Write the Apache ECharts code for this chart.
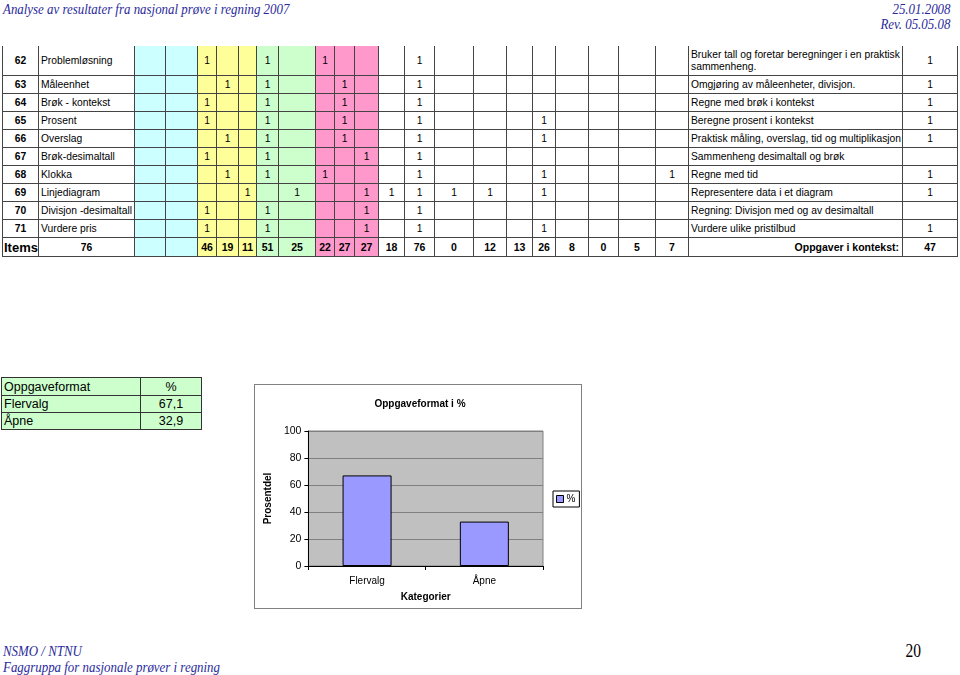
<!DOCTYPE html>
<html>
<head>
<meta charset="utf-8">
<script src="https://cdn.jsdelivr.net/npm/echarts@6/dist/echarts.min.js"></script>
<style>
  body { margin: 0; width: 960px; height: 675px; background: #fff; overflow: hidden; position: relative;
         font-family: "Liberation Sans", Arial, sans-serif; }
  .abs { position: absolute; white-space: nowrap; }
  .hdr { font-family: "Liberation Serif", "Times New Roman", serif; font-style: italic; color: #2a2a9c; font-size: 15px; line-height: 13px; }
  .sl { transform: scaleX(0.86); transform-origin: left center; }
  .sr { transform: scaleX(0.86); transform-origin: right center; }
  .cell { position: absolute; box-sizing: border-box; border-right: 1px solid #444; border-bottom: 1px solid #444;
          display: flex; align-items: center; justify-content: center; font-size: 10.3px; color: #000; overflow: hidden; }
  .left { justify-content: flex-start; padding-left: 2px; }
  .small td { border: 1px solid #333; }
  #chartBox { position: absolute; left: 254px; top: 384px; width: 328px; height: 225px; box-sizing: border-box;
              border: 1px solid #808080; background: #fff; }
  #chart { position: absolute; left: 0; top: 0; width: 326px; height: 223px; }
</style>
</head>
<body>
<div class="abs hdr sl" style="left:3px;top:3px;">Analyse av resultater fra nasjonal prøve i regning 2007</div>
<div class="abs hdr sr" style="right:10px;top:3px;text-align:right;">25.01.2008</div>
<div class="abs hdr sr" style="right:10px;top:18px;text-align:right;">Rev. 05.05.08</div>

<div id="sheet"></div>
<div id="formatTable"></div>

<div id="chartBox"><div id="chart"></div></div>

<div class="abs hdr sl" style="left:3px;top:645px;">NSMO / NTNU</div>
<div class="abs hdr sl" style="left:3px;top:661px;">Faggruppa for nasjonale prøver i regning</div>
<div class="abs sr" style="left:903px;top:641px;font-family:'Liberation Serif',serif;font-size:18px;">20</div>

<script>
// spreadsheet content
var itemNumbers = [62, 63, 64, 65, 66, 67, 68, 69, 70, 71];
var itemNames = ["Problemløsning", "Måleenhet", "Brøk - kontekst", "Prosent", "Overslag",
                 "Brøk-desimaltall", "Klokka", "Linjediagram", "Divisjon -desimaltall", "Vurdere pris"];
// index of the mark columns (0 = first cyan column) holding a 1
var itemMarks = [
  [2, 5, 7, 11],
  [3, 5, 8, 11],
  [2, 5, 8, 11],
  [2, 5, 8, 11, 15],
  [3, 5, 8, 11, 15],
  [2, 5, 9, 11],
  [3, 5, 7, 11, 15, 19],
  [4, 6, 9, 10, 11, 12, 13, 15],
  [2, 5, 9, 11],
  [2, 5, 9, 11, 15]
];
var descriptions = ["Bruker tall og foretar beregninger i en praktisk sammenheng.",
                    "Omgjøring av måleenheter, divisjon.", "Regne med brøk i kontekst",
                    "Beregne prosent i kontekst", "Praktisk måling, overslag, tid og multiplikasjon",
                    "Sammenheng desimaltall og brøk", "Regne med tid", "Representere data i et diagram",
                    "Regning: Divisjon med og av desimaltall", "Vurdere ulike pristilbud"];
var contextFlags = [1, 1, 1, 1, 1, "", 1, 1, "", 1];
var itemTotal = 76;
var columnTotals = ["", "", 46, 19, 11, 51, 25, 22, 27, 27, 18, 76, 0, 12, 13, 26, 8, 0, 5, 7];
var contextLabel = "Oppgaver i kontekst:";
var contextTotal = 47;

// chart data
var categories = ["Flervalg", "Åpne"];
var percentValues = [67.1, 32.9];

// layout of the sheet
var colEdges = [2, 39, 135, 166, 198, 217, 239, 257, 279, 316, 335, 355, 379, 405, 435, 474, 507, 533, 556, 589, 619, 656, 689, 903, 958];
var rowEdges = [46, 76, 94, 112, 130, 148, 166, 184, 202, 220, 238, 257];
var markColors = ["#ccffff", "#ccffff", "#ffff99", "#ffff99", "#ffff99", "#ccffcc", "#ccffcc", "#ff99cc", "#ff99cc", "#ff99cc"];

var sheet = document.getElementById("sheet");

function addCell(c, r, text, cls, style) {
  var d = document.createElement("div");
  d.className = "cell" + (cls ? " " + cls : "");
  d.style.left = colEdges[c] + "px";
  d.style.top = rowEdges[r] + "px";
  d.style.width = (colEdges[c + 1] - colEdges[c]) + "px";
  d.style.height = (rowEdges[r + 1] - rowEdges[r]) + "px";
  if (c === 0) d.style.borderLeft = "1px solid #444";
  if (c >= 2 && c - 2 < markColors.length) d.style.background = markColors[c - 2];
  if (style) Object.assign(d.style, style);
  d.textContent = text;
  sheet.appendChild(d);
}

for (var r = 0; r < itemNumbers.length; r++) {
  addCell(0, r, itemNumbers[r], "", { fontWeight: "bold" });
  addCell(1, r, itemNames[r], "left");
  for (var m = 0; m < 20; m++) {
    addCell(m + 2, r, itemMarks[r].indexOf(m) >= 0 ? "1" : "");
  }
  addCell(22, r, descriptions[r], "left", { whiteSpace: "normal", lineHeight: "12px" });
  addCell(23, r, contextFlags[r]);
}
var last = itemNumbers.length;
addCell(0, last, "Items", "left", { fontWeight: "bold", fontSize: "13px", paddingLeft: "1px" });
addCell(1, last, itemTotal, "", { fontWeight: "bold" });
for (var m = 0; m < 20; m++) {
  addCell(m + 2, last, columnTotals[m], "", { fontWeight: "bold", fontSize: "10.5px" });
}
addCell(22, last, contextLabel, "", { fontWeight: "bold", justifyContent: "flex-end", paddingRight: "3px", fontSize: "10.5px" });
addCell(23, last, contextTotal, "", { fontWeight: "bold", fontSize: "10.5px" });

// small format table
var ft = '<table class="small" style="position:absolute;left:1px;top:377px;border-collapse:collapse;background:#ccffcc;font-size:12.5px;">';
ft += '<tr style="height:18px"><td style="width:134px;padding:0 2px;">Oppgaveformat</td><td style="width:60px;text-align:center;padding:0;">%</td></tr>';
for (var i = 0; i < categories.length; i++) {
  ft += '<tr style="height:17px"><td style="padding:0 2px;">' + categories[i] + '</td><td style="text-align:center;padding:0;">' +
        String(percentValues[i]).replace(".", ",") + '</td></tr>';
}
ft += '</table>';
document.getElementById("formatTable").innerHTML = ft;

// bar chart
var font = '"Liberation Sans", Arial, sans-serif';
var chart = echarts.init(document.getElementById("chart"));
chart.setOption({
  animation: false,
  title: {
    text: "Oppgaveformat i %",
    left: 160,
    top: 9,
    textAlign: "center",
    textStyle: { fontFamily: font, fontSize: 10, fontWeight: "bold", color: "#000" }
  },
  legend: {
    data: ["%"],
    left: 298,
    top: 106,
    backgroundColor: "#fff",
    borderColor: "#000",
    borderWidth: 1,
    padding: [3, 4, 3, 3],
    icon: "rect",
    itemWidth: 7,
    itemHeight: 7,
    itemStyle: { borderColor: "#000", borderWidth: 1 },
    textStyle: { fontFamily: font, fontSize: 10, color: "#000", padding: [0, 0, 0, -2] }
  },
  grid: {
    left: 45, right: 38, top: 46, bottom: 42,
    show: true,
    backgroundColor: "#c0c0c0",
    borderColor: "#808080",
    borderWidth: 1
  },
  xAxis: {
    type: "category",
    data: categories,
    name: "Kategorier",
    nameLocation: "middle",
    nameGap: 26,
    nameTextStyle: { fontFamily: font, fontSize: 10, fontWeight: "bold", color: "#000" },
    axisLine: { lineStyle: { color: "#000" } },
    axisTick: { show: true, length: 4, lineStyle: { color: "#000" } },
    axisLabel: { margin: 10, fontFamily: font, fontSize: 10, color: "#000" }
  },
  yAxis: {
    type: "value",
    min: 0,
    max: 100,
    interval: 20,
    name: "Prosentdel",
    nameLocation: "middle",
    nameGap: 27,
    nameRotate: 90,
    nameTextStyle: { fontFamily: font, fontSize: 10, fontWeight: "bold", color: "#000" },
    axisLine: { show: true, lineStyle: { color: "#000" } },
    axisTick: { show: true, length: 4, lineStyle: { color: "#000" } },
    axisLabel: { margin: 7, fontFamily: font, fontSize: 10.5, color: "#000" },
    splitLine: { lineStyle: { color: "#808080" } }
  },
  series: [{
    name: "%",
    type: "bar",
    data: percentValues,
    barWidth: 49,
    itemStyle: { color: "#9999ff", borderColor: "#000", borderWidth: 1 }
  }]
});
</script>
</body>
</html>
